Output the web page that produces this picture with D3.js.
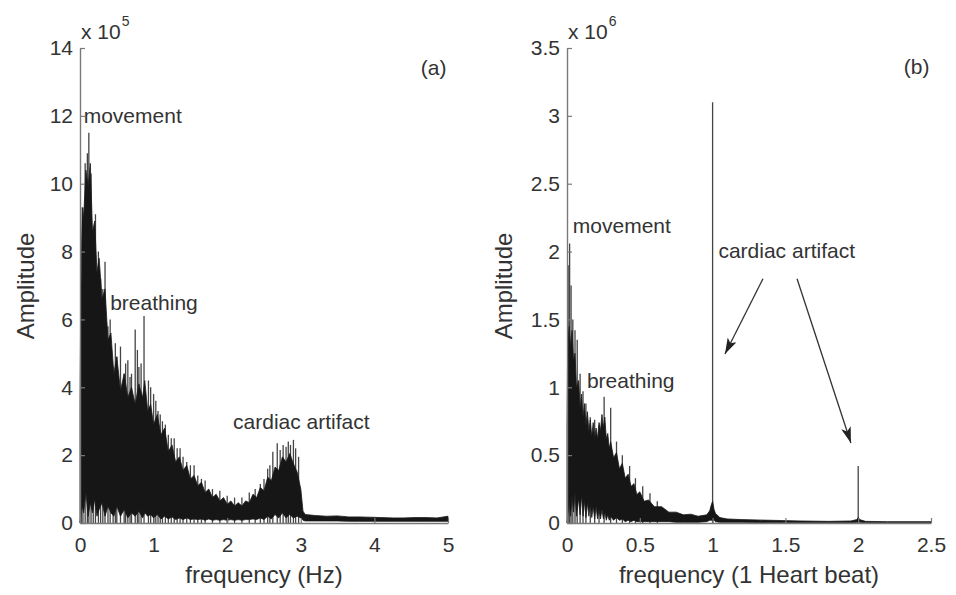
<!DOCTYPE html>
<html>
<head>
<meta charset="utf-8">
<script src="https://cdn.jsdelivr.net/npm/d3@7/dist/d3.min.js"></script>
<style>
  html, body { margin: 0; padding: 0; background: #fff; }
  svg { display: block; }
  text { font-family: "Liberation Sans", Arial, Helvetica, sans-serif; fill: #333; }
</style>
</head>
<body>
<svg id="chart" width="956" height="595"></svg>
<script>
// ---------- Panel (a): spectrum in Hz, amplitude x 10^5 ----------
const freqA  = [0.00,0.01,0.03,0.05,0.08,0.11,0.14,0.17,0.20,0.23,0.26,0.30,0.34,0.38,0.42,0.46,0.50,0.55,0.60,0.65,0.70,0.75,0.80,0.85,0.88,0.92,0.96,1.00,1.05,1.10,1.15,1.20,1.25,1.30,1.35,1.40,1.45,1.50,1.55,1.60,1.65,1.70,1.75,1.80,1.85,1.90,1.95,2.00,2.05,2.10,2.15,2.20,2.25,2.30,2.35,2.40,2.45,2.50,2.55,2.60,2.65,2.70,2.75,2.80,2.85,2.90,2.95,3.00,3.03,3.06,3.20,3.35,3.50,3.65,3.80,3.95,4.10,4.25,4.40,4.55,4.70,4.85,5.00];
const upperA = [3.5,6.5,9.3,9.0,10.4,9.9,10.6,8.6,8.9,7.4,7.8,6.6,6.9,5.4,5.6,4.4,4.9,3.9,4.4,3.7,4.0,3.5,4.1,3.7,4.2,3.3,3.5,2.9,3.2,2.6,2.8,2.1,2.3,1.8,1.95,1.55,1.7,1.3,1.4,1.1,1.2,0.9,1.0,0.75,0.85,0.65,0.75,0.55,0.65,0.5,0.6,0.5,0.65,0.6,0.85,0.75,1.05,0.95,1.35,1.25,1.65,1.55,1.95,1.8,2.05,1.75,1.5,1.0,0.35,0.25,0.22,0.2,0.21,0.18,0.18,0.17,0.16,0.15,0.15,0.16,0.16,0.15,0.2];
const lowerA = [0,0.2,0.5,0.3,0.9,0.2,0.6,0.3,0.7,0.2,0.4,0.6,0.2,0.5,0.3,0.2,0.5,0.2,0.4,0.15,0.3,0.2,0.35,0.15,0.3,0.2,0.25,0.15,0.25,0.12,0.2,0.12,0.18,0.1,0.15,0.1,0.15,0.1,0.12,0.1,0.12,0.08,0.12,0.08,0.1,0.08,0.1,0.08,0.1,0.08,0.1,0.08,0.1,0.1,0.12,0.1,0.15,0.1,0.2,0.12,0.25,0.15,0.3,0.15,0.25,0.15,0.2,0.15,0.08,0.06,0.06,0.06,0.06,0.05,0.05,0.05,0.05,0.05,0.05,0.05,0.05,0.05,0.05];
const spikeFreqA = [0.02,0.04,0.07,0.10,0.12,0.15,0.18,0.21,0.25,0.28,0.31,0.34,0.38,0.41,0.45,0.48,0.50,0.55,0.60,0.62,0.65,0.68,0.70,0.75,0.78,0.80,0.83,0.87,0.93,0.96,1.00,1.03,1.06,1.09,1.12,1.16,1.20,1.24,1.28,1.32,1.36,1.40,1.45,1.50,1.55,1.60,1.65,1.70,1.80,1.90,2.00,2.10,2.20,2.30,2.38,2.45,2.50,2.55,2.58,2.62,2.68,2.72,2.76,2.80,2.83,2.86,2.90,2.93,2.97];
const spikeAmpA  = [7.0,9.3,10.6,10.9,11.5,10.3,8.2,9.1,8.0,7.2,6.9,7.7,5.8,6.0,4.6,5.3,4.9,5.2,4.4,4.7,4.8,4.3,4.4,5.7,5.1,4.6,4.7,6.1,4.2,4.0,3.8,3.6,3.3,3.2,3.0,2.9,2.6,2.5,2.5,2.2,2.2,1.95,1.8,1.7,1.7,1.4,1.3,1.25,1.0,0.95,0.8,0.75,0.75,0.9,1.0,1.15,1.3,1.6,1.7,2.1,2.35,2.15,2.3,2.25,2.4,2.3,2.45,2.2,1.95];
const xTicksA = [0,1,2,3,4,5];
const yTicksA = [0,2,4,6,8,10,12,14];

// ---------- Panel (b): spectrum in heart-beat units, amplitude x 10^6 ----------
const freqB  = [0.000,0.005,0.015,0.025,0.035,0.045,0.055,0.065,0.08,0.09,0.10,0.11,0.12,0.13,0.14,0.15,0.16,0.17,0.18,0.19,0.20,0.21,0.22,0.23,0.24,0.25,0.26,0.27,0.28,0.29,0.30,0.32,0.34,0.36,0.38,0.40,0.42,0.44,0.46,0.48,0.50,0.53,0.56,0.60,0.65,0.70,0.75,0.80,0.85,0.90,0.96,0.98,0.99,1.00,1.01,1.02,1.05,1.10,1.20,1.40,1.60,1.80,1.95,1.99,2.00,2.01,2.05,2.20,2.50];
const upperB = [0.7,1.35,1.45,1.3,1.42,1.2,1.25,1.0,1.05,0.85,0.95,0.78,0.88,0.72,0.82,0.68,0.76,0.64,0.74,0.62,0.7,0.62,0.74,0.68,0.8,0.7,0.78,0.62,0.66,0.55,0.6,0.48,0.52,0.4,0.44,0.33,0.36,0.27,0.29,0.21,0.23,0.16,0.17,0.12,0.12,0.08,0.08,0.06,0.065,0.05,0.06,0.09,0.13,0.16,0.1,0.07,0.04,0.03,0.025,0.02,0.015,0.012,0.015,0.025,0.04,0.025,0.012,0.01,0.01];
const lowerB = [0,0.05,0.15,0.05,0.2,0.08,0.22,0.05,0.18,0.06,0.2,0.05,0.16,0.04,0.15,0.05,0.14,0.04,0.12,0.03,0.12,0.03,0.1,0.03,0.1,0.03,0.08,0.02,0.06,0.02,0.05,0.02,0.04,0.02,0.03,0.01,0.02,0.01,0.02,0.01,0.01,0.01,0.01,0.01,0.01,0.01,0.005,0.005,0.005,0.005,0.01,0.02,0.02,0.02,0.02,0.01,0.005,0.005,0.005,0.003,0.003,0.003,0.003,0.005,0.005,0.005,0.003,0.003,0.003];
const spikeFreqB = [0.008,0.018,0.028,0.04,0.055,0.07,0.09,0.11,0.13,0.16,0.19,0.22,0.255,0.3,0.34,0.38,0.43,0.47,0.52,0.57,0.62,1.0,2.0];
const spikeAmpB  = [1.9,2.06,1.75,1.5,1.42,1.35,1.1,0.97,0.88,0.78,0.76,0.72,0.93,0.85,0.6,0.5,0.42,0.33,0.27,0.22,0.16,3.1,0.42];
const xTicksB = [0,0.5,1,1.5,2,2.5];
const yTicksB = [0,0.5,1,1.5,2,2.5,3,3.5];

// annotations (data units)
const labelsA = [
  {text: "movement", x: 0.05, y: 11.8, anchor: "start"},
  {text: "breathing", x: 0.41, y: 6.28, anchor: "start"},
  {text: "cardiac artifact", x: 2.08, y: 2.77, anchor: "start"},
  {text: "(a)", x: 4.98, y: 13.2, anchor: "end"}
];
const labelsB = [
  {text: "movement", x: 0.04, y: 2.14, anchor: "start"},
  {text: "breathing", x: 0.137, y: 0.995, anchor: "start"},
  {text: "cardiac artifact", x: 1.04, y: 1.95, anchor: "start"},
  {text: "(b)", x: 2.49, y: 3.31, anchor: "end"}
];
const arrowsB = [
  {x1: 1.346, y1: 1.80, x2: 1.085, y2: 1.245},
  {x1: 1.58,  y1: 1.80, x2: 1.95,  y2: 0.59}
];

const svg = d3.select("#chart");
svg.append("rect").attr("width", 956).attr("height", 595).attr("fill", "#fff");

const defs = svg.append("defs");
defs.append("marker")
  .attr("id", "arrowhead")
  .attr("viewBox", "0 0 16 10")
  .attr("refX", 16).attr("refY", 5)
  .attr("markerWidth", 16).attr("markerHeight", 10)
  .attr("markerUnits", "userSpaceOnUse")
  .attr("orient", "auto")
  .append("path")
  .attr("d", "M0,0 L16,5 L0,10 L4,5 Z")
  .attr("fill", "#222");

function drawPanel(cfg) {
  const x = d3.scaleLinear().domain(cfg.xDomain).range([cfg.left, cfg.right]);
  const y = d3.scaleLinear().domain(cfg.yDomain).range([523, 48]);
  const g = svg.append("g");

  // thin spectral peaks (drawn first so the dense mass sits over their bases)
  const spikes = cfg.spikeFreq.map((f, i) => ({f, a: cfg.spikeAmp[i]}));
  g.selectAll("line.spike").data(spikes).enter().append("line")
    .attr("class", "spike")
    .attr("x1", d => x(d.f)).attr("x2", d => x(d.f))
    .attr("y1", y(0)).attr("y2", d => y(d.a))
    .attr("stroke", "#444")
    .attr("stroke-width", 1.3);

  const rows = cfg.freq.map((f, i) => ({f, lo: cfg.lower[i], hi: cfg.upper[i]}));
  const area = d3.area()
    .x(d => x(d.f))
    .y0(d => y(d.lo))
    .y1(d => y(d.hi));
  g.append("path").datum(rows)
    .attr("d", area)
    .attr("fill", "#161616")
    .attr("stroke", "#1a1a1a")
    .attr("stroke-width", 0.8)
    .attr("stroke-linejoin", "round");

  // axes
  const xAxis = d3.axisBottom(x).tickValues(cfg.xTicks).tickFormat(d => String(d))
    .tickSizeInner(-5).tickSizeOuter(0).tickPadding(14);
  const yAxis = d3.axisLeft(y).tickValues(cfg.yTicks).tickFormat(d => String(d))
    .tickSizeInner(-5).tickSizeOuter(0).tickPadding(7);
  const gx = g.append("g").attr("transform", `translate(0,${y(0)})`).call(xAxis);
  const gy = g.append("g").attr("transform", `translate(${x(0)},0)`).call(yAxis);
  [gx, gy].forEach(a => {
    a.selectAll("path.domain").attr("stroke", "#7a7a7a").attr("stroke-width", 1.4);
    a.selectAll(".tick line").attr("stroke", "#7a7a7a").attr("stroke-width", 1.2);
    a.selectAll(".tick text")
      .attr("font-size", 21)
      .attr("font-family", "Liberation Sans, Arial, sans-serif")
      .attr("fill", "#333");
  });

  // exponent label
  const ex = g.append("text")
    .attr("x", x(0) + 1).attr("y", 39)
    .attr("font-size", 21);
  ex.append("tspan").text("x 10");
  ex.append("tspan").attr("dy", -13).attr("dx", 1).attr("font-size", 14).text(cfg.exponent);

  // axis titles
  g.append("text")
    .attr("x", (cfg.left + cfg.right) / 2).attr("y", 583)
    .attr("text-anchor", "middle").attr("font-size", 24)
    .text(cfg.xTitle);
  g.append("text")
    .attr("transform", `translate(${cfg.yTitleX},286) rotate(-90)`)
    .attr("text-anchor", "middle").attr("font-size", 24)
    .text("Amplitude");

  // annotations
  g.selectAll("text.ann").data(cfg.labels).enter().append("text")
    .attr("class", "ann")
    .attr("x", d => x(d.x)).attr("y", d => y(d.y))
    .attr("text-anchor", d => d.anchor)
    .attr("font-size", 21)
    .text(d => d.text);

  if (cfg.arrows) {
    g.selectAll("line.arrow").data(cfg.arrows).enter().append("line")
      .attr("class", "arrow")
      .attr("x1", d => x(d.x1)).attr("y1", d => y(d.y1))
      .attr("x2", d => x(d.x2)).attr("y2", d => y(d.y2))
      .attr("stroke", "#333").attr("stroke-width", 1.3)
      .attr("marker-end", "url(#arrowhead)");
  }
}

drawPanel({
  left: 80, right: 448, xDomain: [0, 5], yDomain: [0, 14],
  freq: freqA, upper: upperA, lower: lowerA,
  spikeFreq: spikeFreqA, spikeAmp: spikeAmpA,
  xTicks: xTicksA, yTicks: yTicksA, exponent: "5",
  xTitle: "frequency (Hz)", yTitleX: 34, labels: labelsA
});
drawPanel({
  left: 567, right: 931, xDomain: [0, 2.5], yDomain: [0, 3.5],
  freq: freqB, upper: upperB, lower: lowerB,
  spikeFreq: spikeFreqB, spikeAmp: spikeAmpB,
  xTicks: xTicksB, yTicks: yTicksB, exponent: "6",
  xTitle: "frequency (1 Heart beat)", yTitleX: 512, labels: labelsB,
  arrows: arrowsB
});
</script>
</body>
</html>
